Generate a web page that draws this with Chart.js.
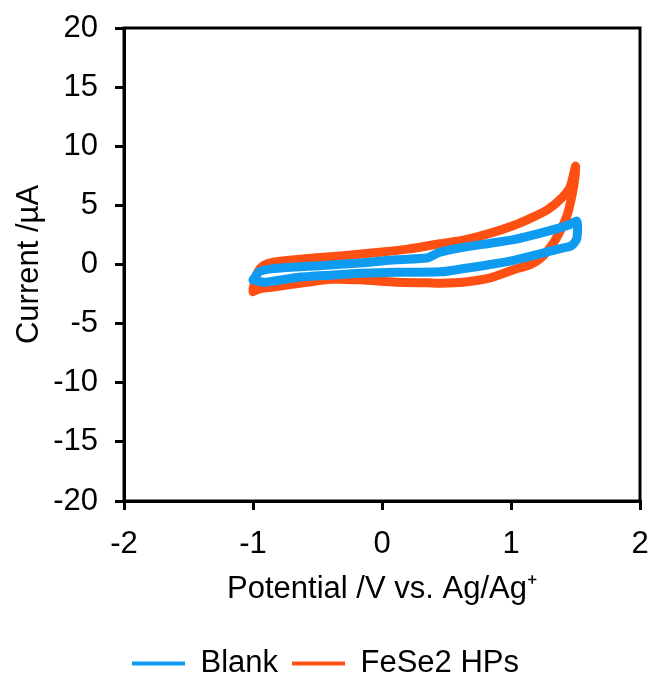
<!DOCTYPE html>
<html>
<head>
<meta charset="utf-8">
<script src="https://cdn.jsdelivr.net/npm/chart.js@4.4.1/dist/chart.umd.min.js"></script>
<style>
  html, body { margin: 0; padding: 0; background: #fff; }
  #wrap { width: 649px; height: 673px; }
</style>
</head>
<body>
<div id="wrap"><canvas id="c" width="649" height="673"></canvas></div>
<script>
// Series names
const seriesNames = ["Blank", "FeSe2 HPs"];

// Blank: potential (V) and current (µA), one CV loop
const blankV = [-1.00, -0.92, -0.84, -0.66, -0.40, -0.17, 0.11, 0.45, 0.65, 0.84, 1.02, 1.225, 1.38, 1.47, 1.51, 1.51,
                1.45, 1.28, 1.02, 0.84, 0.63, 0.45, 0.40, 0.35, 0.11, -0.20, -0.58, -0.84, -0.95, -1.00];
const blankI = [-1.30, -1.50, -1.40, -1.10, -0.90, -0.75, -0.65, -0.62, -0.32, 0.00, 0.35, 0.90, 1.35, 1.60, 2.20, 3.65,
                3.35, 2.80, 2.10, 1.80, 1.45, 1.05, 0.80, 0.55, 0.40, 0.10, -0.15, -0.35, -0.60, -1.30];

// FeSe2 HPs: potential (V) and current (µA), one CV loop
const fesV = [-1.00, -0.95, -0.84, -0.58, -0.40, -0.17, 0.11, 0.35, 0.45, 0.63, 0.84, 1.02, 1.15, 1.225, 1.28, 1.35, 1.43, 1.47, 1.496, 1.50,
              1.46, 1.40, 1.28, 1.15, 1.02, 0.84, 0.63, 0.45, 0.20, 0.00, -0.20, -0.40, -0.58, -0.84, -0.92, -0.97, -1.00];
const fesI = [-2.30, -2.05, -1.90, -1.50, -1.25, -1.30, -1.50, -1.55, -1.58, -1.50, -1.13, -0.45, 0.00, 0.50, 1.10, 2.20, 4.00, 5.70, 7.40, 8.30,
              6.60, 5.70, 4.60, 3.90, 3.30, 2.65, 2.05, 1.75, 1.30, 1.05, 0.85, 0.65, 0.50, 0.20, -0.10, -0.80, -2.10];

// Axis ranges / tick labels
const xTicks = [-2, -1, 0, 1, 2];
const yTicks = [-20, -15, -10, -5, 0, 5, 10, 15, 20];
const xTitle = "Potential /V vs. Ag/Ag\u207A";
const yTitle = "Current /\u00B5A";

const colors = ["#0F9BF0", "#FF5014"];

function pts(xs, ys) { return xs.map((x, i) => ({ x: x, y: ys[i] })); }

const FONT = "'Liberation Sans', Arial, sans-serif";
const FS = 31;
const LEGEND_SHIFT = 16;

const framePlugin = {
  id: 'frame',
  afterLayout(chart) {
    if (chart.legend) { chart.legend.top += LEGEND_SHIFT; chart.legend.bottom += LEGEND_SHIFT; }
  },
  afterDatasetsDraw(chart) {
    const a = chart.chartArea, ctx = chart.ctx;
    ctx.save();
    ctx.strokeStyle = '#000';
    ctx.lineWidth = 3;
    ctx.strokeRect(a.left, a.top, a.right - a.left, a.bottom - a.top);
    ctx.restore();
  }
};

new Chart(document.getElementById('c'), {
  type: 'scatter',
  data: {
    datasets: [
      { label: seriesNames[0], data: pts(blankV, blankI), showLine: true, borderColor: colors[0], backgroundColor: colors[0],
        borderWidth: 9, pointRadius: 0, tension: 0.25, borderJoinStyle: 'round', borderCapStyle: 'round' },
      { label: seriesNames[1], data: pts(fesV, fesI), showLine: true, borderColor: colors[1], backgroundColor: colors[1],
        borderWidth: 9, pointRadius: 0, tension: 0.25, borderJoinStyle: 'round', borderCapStyle: 'round' }
    ]
  },
  options: {
    responsive: false,
    animation: false,
    devicePixelRatio: 1,
    layout: { padding: { left: 11, right: 9, top: 28, bottom: 0 } },
    plugins: {
      tooltip: { enabled: false },
      legend: {
        position: 'bottom',
        labels: {
          font: { family: FONT, size: FS },
          color: '#000',
          boxWidth: 53,
          boxHeight: 4,
          padding: 14,
          generateLabels(chart) {
            return chart.data.datasets.map((d, i) => ({
              text: d.label, fillStyle: d.borderColor, strokeStyle: d.borderColor,
              lineWidth: 0, hidden: false, datasetIndex: i, fontColor: '#000'
            }));
          }
        }
      }
    },
    scales: {
      x: {
        type: 'linear', min: xTicks[0], max: xTicks[xTicks.length - 1],
        afterBuildTicks(s) { s.ticks = xTicks.map(v => ({ value: v })); },
        afterFit(s) { s.height = 117; s.paddingLeft = 0; s.paddingRight = 0; },
        ticks: { font: { family: FONT, size: FS }, color: '#000', padding: 16, maxRotation: 0 },
        grid: { display: true, drawOnChartArea: false, drawTicks: true, tickLength: 9, color: '#000', lineWidth: 3 },
        border: { display: true, color: '#000', width: 3 },
        title: { display: true, text: xTitle, font: { family: FONT, size: FS }, color: '#000', padding: { top: 6, bottom: 10 } }
      },
      y: {
        type: 'linear', min: yTicks[0], max: yTicks[yTicks.length - 1],
        afterBuildTicks(s) { s.ticks = yTicks.map(v => ({ value: v })); },
        afterFit(s) { s.width = 113; s.paddingTop = 0; s.paddingBottom = 0; },
        ticks: { font: { family: FONT, size: FS }, color: '#000', padding: 17 },
        grid: { display: true, drawOnChartArea: false, drawTicks: true, tickLength: 9, color: '#000', lineWidth: 3 },
        border: { display: true, color: '#000', width: 3 },
        title: { display: true, text: yTitle, font: { family: FONT, size: FS }, color: '#000', padding: { top: 0, bottom: 4 } }
      }
    }
  },
  plugins: [framePlugin]
});
</script>
</body>
</html>
